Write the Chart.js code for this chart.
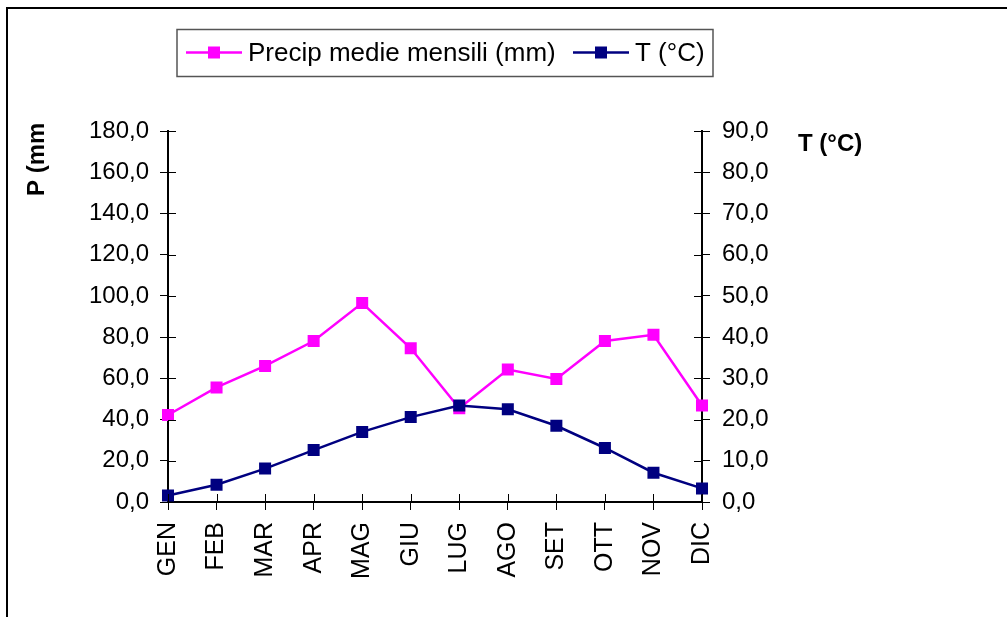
<!DOCTYPE html>
<html><head><meta charset="utf-8">
<script src="https://cdn.jsdelivr.net/npm/chart.js@4"></script>
<style>html,body{margin:0;padding:0;background:#fff;}#wrap{position:relative;width:1007px;height:617px;}</style>
</head><body><div id="wrap"><canvas id="c" width="1007" height="617"></canvas></div>
<script>
const categories = ['GEN','FEB','MAR','APR','MAG','GIU','LUG','AGO','SET','OTT','NOV','DIC'];
const precipValues = [42.2, 55.6, 66.0, 78.1, 96.5, 74.6, 45.5, 64.3, 59.7, 78.1, 81.1, 46.8];
const tempValues = [1.6, 4.2, 8.1, 12.6, 17.0, 20.6, 23.4, 22.5, 18.5, 13.1, 7.1, 3.3];
const precipTicks = [0, 20, 40, 60, 80, 100, 120, 140, 160, 180];
const tempTicks = [0, 10, 20, 30, 40, 50, 60, 70, 80, 90];
const seriesNames = ['Precip medie mensili (mm)', 'T (°C)'];
const axisTitles = ['P (mm', 'T (°C)'];
const PINK = '#FF00FF', NAVY = '#000080';
const FONT = "'Liberation Sans', Arial, sans-serif";

Chart.defaults.font.family = FONT;
Chart.defaults.color = '#000';

const fmt = v => Number(v).toFixed(1).replace('.', ',');

const decor = {
  id: 'decor',
  afterDraw(chart) {
    const ctx = chart.ctx;
    const ca = chart.chartArea;
    ctx.save();
    // outer frame
    ctx.fillStyle = '#000';
    ctx.fillRect(6, 7, 1001, 2);
    ctx.fillRect(6, 7, 2, 610);
    // inward tick marks
    ctx.strokeStyle = '#000';
    ctx.lineWidth = 1;
    const xs = chart.scales.x, yl = chart.scales.yP, yr = chart.scales.yT;
    ctx.beginPath();
    xs.ticks.forEach((t, i) => {
      const x = Math.round(xs.getPixelForTick(i)) + 0.5;
      ctx.moveTo(x, ca.bottom); ctx.lineTo(x, ca.bottom - 8);
    });
    yl.ticks.forEach((t, i) => {
      const y = Math.round(yl.getPixelForTick(i)) + 0.5;
      ctx.moveTo(ca.left, y); ctx.lineTo(ca.left + 8, y);
    });
    yr.ticks.forEach((t, i) => {
      const y = Math.round(yr.getPixelForTick(i)) + 0.5;
      ctx.moveTo(ca.right, y); ctx.lineTo(ca.right - 8, y);
    });
    ctx.stroke();
    // axis titles
    ctx.fillStyle = '#000';
    ctx.font = 'bold 24px ' + FONT;
    ctx.textBaseline = 'alphabetic';
    ctx.textAlign = 'left';
    ctx.save();
    ctx.translate(44, 196);
    ctx.rotate(-Math.PI / 2);
    ctx.fillText(axisTitles[0], 0, 0);
    ctx.restore();
    ctx.fillText(axisTitles[1], 798, 151);
    // legend
    ctx.strokeStyle = '#555';
    ctx.lineWidth = 1.5;
    ctx.strokeRect(177, 29.5, 536, 47);
    const items = [
      {x: 186, tx: 248, color: PINK, text: seriesNames[0]},
      {x: 573, tx: 635, color: NAVY, text: seriesNames[1]}
    ];
    items.forEach(it => {
      ctx.strokeStyle = it.color;
      ctx.lineWidth = 2.5;
      ctx.beginPath();
      ctx.moveTo(it.x, 52.5); ctx.lineTo(it.x + 56, 52.5);
      ctx.stroke();
      ctx.fillStyle = it.color;
      ctx.fillRect(it.x + 28 - 6, 52.5 - 6, 12, 12);
      ctx.fillStyle = '#000';
      ctx.font = '26px ' + FONT;
      ctx.fillText(it.text, it.tx, 61);
    });
    ctx.restore();
  }
};

new Chart(document.getElementById('c'), {
  type: 'line',
  data: {
    labels: categories,
    datasets: [
      {
        label: seriesNames[0], data: precipValues, yAxisID: 'yP', order: 2,
        borderColor: PINK, backgroundColor: PINK, borderWidth: 2.5,
        pointStyle: 'rect', pointRadius: 8.5, pointBorderWidth: 0, pointHoverRadius: 8.5,
        tension: 0
      },
      {
        label: seriesNames[1], data: tempValues, yAxisID: 'yT', order: 1,
        borderColor: NAVY, backgroundColor: NAVY, borderWidth: 2.5,
        pointStyle: 'rect', pointRadius: 8.5, pointBorderWidth: 0, pointHoverRadius: 8.5,
        tension: 0
      }
    ]
  },
  options: {
    responsive: false,
    animation: false,
    layout: {padding: {top: 131, left: 0, right: 0, bottom: 0}},
    plugins: {legend: {display: false}, title: {display: false}, tooltip: {enabled: false}},
    scales: {
      x: {
        offset: false,
        grid: {drawOnChartArea: false, drawTicks: true, tickLength: 8, color: '#000', lineWidth: 1},
        border: {display: true, color: '#000', width: 2},
        ticks: {font: {size: 25}, color: '#000', minRotation: 90, maxRotation: 90, autoSkip: false, padding: 12},
        afterFit: s => { s.height = 115; }
      },
      yP: {
        position: 'left', min: 0, max: 180,
        afterBuildTicks: s => { s.ticks = precipTicks.map(v => ({value: v})); },
        grid: {drawOnChartArea: false, drawTicks: true, tickLength: 8, color: '#000', lineWidth: 1},
        border: {display: true, color: '#000', width: 2},
        ticks: {font: {size: 24}, color: '#000', padding: 11, callback: fmt},
        afterFit: s => { s.width = 168; }
      },
      yT: {
        position: 'right', min: 0, max: 90,
        afterBuildTicks: s => { s.ticks = tempTicks.map(v => ({value: v})); },
        grid: {drawOnChartArea: false, drawTicks: true, tickLength: 8, color: '#000', lineWidth: 1},
        border: {display: true, color: '#000', width: 2},
        ticks: {font: {size: 24}, color: '#000', padding: 12, callback: fmt},
        afterFit: s => { s.width = 305; }
      }
    }
  },
  plugins: [decor]
});
</script></body></html>
